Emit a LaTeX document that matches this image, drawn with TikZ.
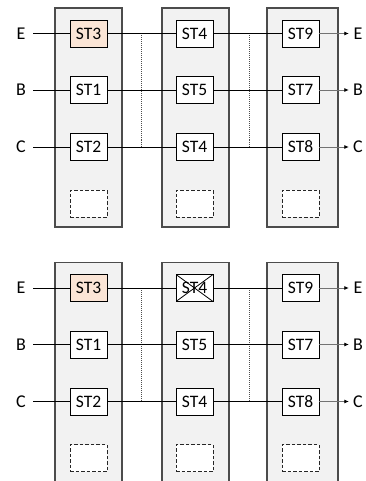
\documentclass[tikz,border=0pt]{standalone}
\usepackage{fontspec}
\setmainfont{Carlito}
\usetikzlibrary{arrows.meta}
\definecolor{colfill}{HTML}{F2F2F2}
\definecolor{peach}{HTML}{FBE5D6}
\tikzset{
 colrect/.style={draw=black!70, line width=1.2pt, fill=colfill, inner sep=0pt},
 stbox/.style={draw=black, line width=0.9pt, fill=white, minimum width=37pt, minimum height=27pt, inner sep=0pt, font=\fontsize{17.5}{20}\selectfont},
 hotbox/.style={stbox, fill=peach},
 crossbox/.style={stbox, path picture={\draw[line width=0.8pt] (path picture bounding box.north west) -- (path picture bounding box.south east) (path picture bounding box.south west) -- (path picture bounding box.north east);}},
 emptybox/.style={draw=black!85, dash pattern=on 3.5pt off 2pt, line width=0.9pt, fill=white, minimum width=37pt, minimum height=27pt, inner sep=0pt},
 link/.style={draw=black, line width=0.9pt},
 outlink/.style={draw=black!55, line width=0.8pt, -{Latex[length=4.5pt,width=4pt,color=black]}},
 divider/.style={draw=black!70, dash pattern=on 1pt off 1pt, line width=0.9pt},
 inlbl/.style={font=\fontsize{18}{21}\selectfont, inner sep=0pt, minimum width=24pt, minimum height=12pt},
 outlbl/.style={font=\fontsize{18}{21}\selectfont, inner sep=0pt, minimum width=18pt, minimum height=12pt},
}
\newcommand\mypanel[3]{%
\begin{scope}[yshift=-#2pt]
 \node[colrect, minimum width=67pt, minimum height=219pt] (#1c1) at (88.5,117.5) {};
 \node[colrect, minimum width=67pt, minimum height=219pt] (#1c2) at (195.5,117.5) {};
 \node[colrect, minimum width=71pt, minimum height=219pt] (#1c3) at (302.5,117.5) {};
 % column 1
 \node[hotbox] (#1s3) at (88.5,33.5) {ST3};
 \node[stbox] (#1s1) at (88.5,90) {ST1};
 \node[stbox] (#1s2) at (88.5,147) {ST2};
 \node[emptybox] (#1e1) at (88.5,203.5) {};
 % column 2
 \node[#3] (#1m1) at (194.5,33.5) {ST4};
 \node[stbox] (#1m2) at (194.5,90) {ST5};
 \node[stbox] (#1m3) at (194.5,147) {ST4};
 \node[emptybox] (#1e2) at (194.5,203.5) {};
 % column 3
 \node[stbox] (#1r1) at (300.5,33.5) {ST9};
 \node[stbox] (#1r2) at (300.5,90) {ST7};
 \node[stbox] (#1r3) at (300.5,147) {ST8};
 \node[emptybox] (#1e3) at (300.5,203.5) {};
 % labels
 \node[inlbl] (#1iE) at (21,33.5) {E};
 \node[inlbl] (#1iB) at (21,90) {B};
 \node[inlbl] (#1iC) at (21,147) {C};
 \node[outlbl] (#1oE) at (358,33.5) {E};
 \node[outlbl] (#1oB) at (358,90) {B};
 \node[outlbl] (#1oC) at (358,147) {C};
 % dividers
 \coordinate (#1d1t) at (141,33.5);
 \coordinate (#1d1b) at (141,147);
 \coordinate (#1d2t) at (249,33.5);
 \coordinate (#1d2b) at (249,147);
 \draw[divider] (#1d1t) -- (#1d1b);
 \draw[divider] (#1d2t) -- (#1d2b);
 % links
 \draw[link] (#1iE.east) -- (#1s3.west);
 \draw[link] (#1iB.east) -- (#1s1.west);
 \draw[link] (#1iC.east) -- (#1s2.west);
 \draw[link] (#1s3.east) -- (#1m1.west);
 \draw[link] (#1s1.east) -- (#1m2.west);
 \draw[link] (#1s2.east) -- (#1m3.west);
 \draw[link] (#1m1.east) -- (#1r1.west);
 \draw[link] (#1m2.east) -- (#1r2.west);
 \draw[link] (#1m3.east) -- (#1r3.west);
 \draw[outlink] (#1r1.east) -- (#1oE.west);
 \draw[outlink] (#1r2.east) -- (#1oB.west);
 \draw[outlink] (#1r3.east) -- (#1oC.west);
\end{scope}}
\begin{document}
\begin{tikzpicture}[x=1pt,y=-1pt]
 \clip (0,0) rectangle (366,481);
 \useasboundingbox (0,0) rectangle (366,481);
 \mypanel{a}{0}{stbox}
 \mypanel{b}{254.5}{crossbox}
\end{tikzpicture}
\end{document}
